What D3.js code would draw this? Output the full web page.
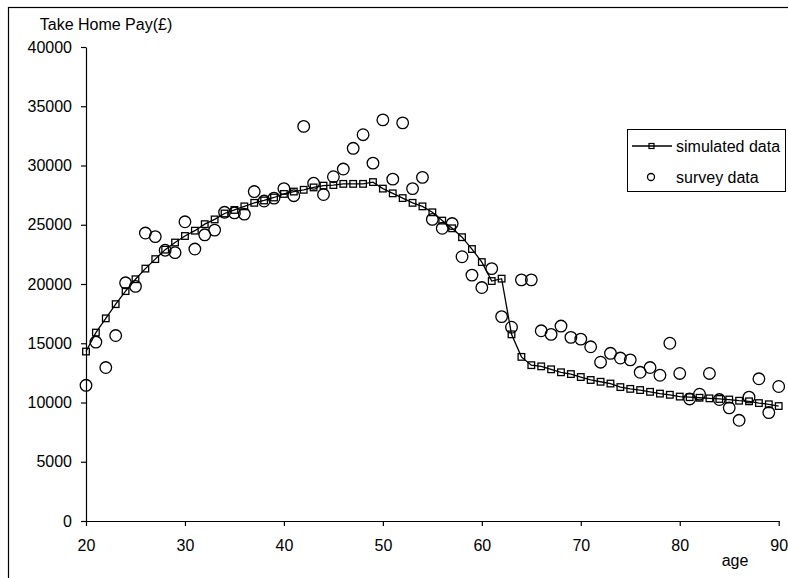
<html>
  <head>
    <meta charset="utf-8">
    <title>Take Home Pay by age</title>
    <style>
    body{
      margin: 0;
      background-color: white;
    }
    text{
      font-family: Arial, "Liberation Sans", sans-serif;
    }
    </style>
    <script src="https://d3js.org/d3.v7.min.js"></script>
  </head>
  <body>
    <div id="container"></div>
    <script>
    //size of svg chart area
    const width = 788,
          height = 578;

    //ages 20 to 90
    var ages = d3.range(20, 91);

    //simulated take home pay for each age
    var simulated = [14300, 15900, 17100, 18300, 19400, 20400, 21300, 22100, 22900, 23500,
      24050, 24500, 25050, 25450, 25950, 26250, 26550, 26850, 27050, 27300,
      27600, 27800, 27950, 28150, 28300, 28350, 28450, 28450, 28450, 28600,
      28050, 27650, 27250, 26850, 26550, 26050, 25350, 24700, 23950, 22950,
      21850, 20250, 20450, 15750, 13850, 13150, 13050, 12800, 12550, 12400,
      12150, 11900, 11750, 11600, 11300, 11150, 11050, 10900, 10750, 10650,
      10500, 10450, 10400, 10350, 10300, 10250, 10150, 10100, 9950, 9850,
      9700];

    //survey take home pay for each age
    var survey = [11450, 15100, 12950, 15650, 20100, 19800, 24300, 24000, 22850, 22650,
      25250, 22950, 24150, 24550, 26050, 26000, 25900, 27800, 27000, 27250,
      28050, 27450, 33300, 28500, 27550, 29050, 29700, 31450, 32600, 30200,
      33850, 28850, 33600, 28050, 29000, 25450, 24700, 25100, 22300, 20750,
      19700, 21300, 17250, 16350, 20350, 20350, 16050, 15750, 16450, 15500,
      15350, 14700, 13400, 14150, 13750, 13600, 12550, 12950, 12300, 15000,
      12450, 10300, 10700, 12450, 10250, 9550, 8500, 10450, 12000, 9150,
      11350];

    var xTicks = [20, 30, 40, 50, 60, 70, 80, 90];
    var yTicks = [0, 5000, 10000, 15000, 20000, 25000, 30000, 35000, 40000];
    var legendNames = ["simulated data", "survey data"];

    var svg = d3.select("#container")
      .append("svg")
      .attr("width", width)
      .attr("height", height)
      .style("display", "block");

    //outer chart frame (only left and top edges are visible)
    svg.append("rect")
      .attr("x", 8.5)
      .attr("y", 7.5)
      .attr("width", 900)
      .attr("height", 700)
      .attr("fill", "none")
      .attr("stroke", "black")
      .attr("stroke-width", 1.2);

    var x = d3.scaleLinear().domain([20, 90]).range([86, 778.7]);
    var y = d3.scaleLinear().domain([0, 40000]).range([521, 47]);

    //axes
    var xAxis = svg.append("g")
      .attr("transform", "translate(0,521)")
      .call(d3.axisBottom(x).tickValues(xTicks).tickSize(5).tickSizeOuter(0).tickPadding(14).tickFormat(d3.format("d")));

    var yAxis = svg.append("g")
      .attr("transform", "translate(86,0)")
      .call(d3.axisLeft(y).tickValues(yTicks).tickSize(5).tickSizeOuter(0).tickPadding(9).tickFormat(d3.format("d")));

    svg.selectAll(".tick text")
      .attr("font-size", 16)
      .attr("font-family", "Arial, 'Liberation Sans', sans-serif")
      .attr("fill", "black");
    svg.selectAll(".domain, .tick line")
      .attr("stroke", "black")
      .attr("stroke-width", 1.2);

    //axis titles
    svg.append("text")
      .attr("x", 106)
      .attr("y", 30)
      .attr("text-anchor", "middle")
      .attr("font-size", 16)
      .text("Take Home Pay(£)");

    svg.append("text")
      .attr("x", 735)
      .attr("y", 566)
      .attr("text-anchor", "middle")
      .attr("font-size", 16)
      .text("age");

    //simulated line
    var line = d3.line()
      .x(function(d, i) {return x(ages[i]);})
      .y(function(d) {return y(d);});

    svg.append("path")
      .datum(simulated)
      .attr("d", line)
      .attr("fill", "none")
      .attr("stroke", "black")
      .attr("stroke-width", 1.3);

    svg.selectAll(".sq")
      .data(simulated)
      .enter()
      .append("rect")
      .attr("class", "sq")
      .attr("x", function(d, i) {return x(ages[i]) - 3.3;})
      .attr("y", function(d) {return y(d) - 3.3;})
      .attr("width", 6.6)
      .attr("height", 6.6)
      .attr("fill", "none")
      .attr("stroke", "black")
      .attr("stroke-width", 1.3);

    //survey points
    svg.selectAll(".pt")
      .data(survey)
      .enter()
      .append("circle")
      .attr("class", "pt")
      .attr("cx", function(d, i) {return x(ages[i]);})
      .attr("cy", function(d) {return y(d);})
      .attr("r", 5.8)
      .attr("fill", "none")
      .attr("stroke", "black")
      .attr("stroke-width", 1.3);

    //legend
    var legend = svg.append("g");
    legend.append("rect")
      .attr("x", 627.5)
      .attr("y", 129.5)
      .attr("width", 158)
      .attr("height", 62)
      .attr("fill", "white")
      .attr("stroke", "black")
      .attr("stroke-width", 1);
    legend.append("line")
      .attr("x1", 632).attr("x2", 672)
      .attr("y1", 146).attr("y2", 146)
      .attr("stroke", "black")
      .attr("stroke-width", 1.3);
    legend.append("rect")
      .attr("x", 649).attr("y", 143.5)
      .attr("width", 5).attr("height", 5)
      .attr("fill", "none")
      .attr("stroke", "black")
      .attr("stroke-width", 1.2);
    legend.append("circle")
      .attr("cx", 651).attr("cy", 177)
      .attr("r", 3.5)
      .attr("fill", "none")
      .attr("stroke", "black")
      .attr("stroke-width", 1.3);
    legend.selectAll(".lt")
      .data(legendNames)
      .enter()
      .append("text")
      .attr("class", "lt")
      .attr("x", 676)
      .attr("y", function(d, i) {return 146 + i * 31;})
      .attr("dy", "0.35em")
      .attr("font-size", 16)
      .text(function(d) {return d;});
    </script>
  </body>
</html>
